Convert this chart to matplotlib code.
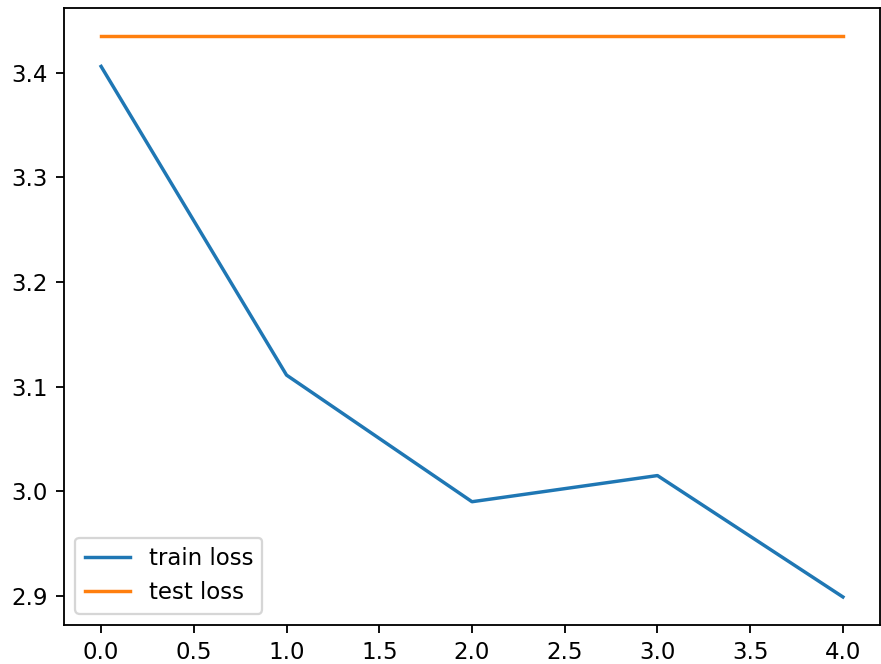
import matplotlib
matplotlib.use("Agg")
import matplotlib.pyplot as plt

epochs = [0, 1, 2, 3, 4]
train_loss = [3.406, 3.111, 2.990, 3.015, 2.899]
test_loss = [3.435, 3.435, 3.435, 3.435, 3.435]

dpi = 165
W, H = 881, 664
fig = plt.figure(figsize=(W / dpi, H / dpi), dpi=dpi)
ax = fig.add_axes([64 / W, (H - 625) / H, 816 / W, 617 / H])

ax.plot(epochs, train_loss, label="train loss")
ax.plot(epochs, test_loss, label="test loss")
ax.legend(loc="lower left")

fig.savefig("out.png", dpi=dpi)
